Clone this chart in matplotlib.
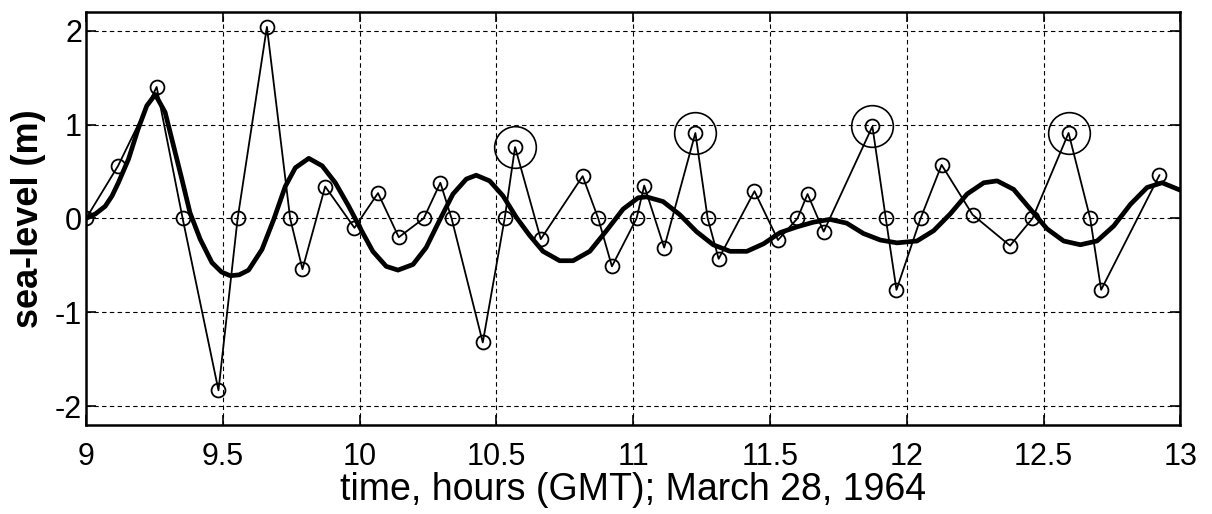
import matplotlib
matplotlib.use('Agg')
import matplotlib.pyplot as plt

plt.rcParams['font.family'] = ['Liberation Sans', 'DejaVu Sans']
plt.rcParams['axes.unicode_minus'] = False

# observed sea level (thin line with circles)
obs_t = [9.0, 9.117, 9.258, 9.353, 9.484, 9.554, 9.661, 9.746, 9.791, 9.874,
         9.981, 10.067, 10.143, 10.234, 10.295, 10.336, 10.45, 10.53, 10.568, 10.662,
         10.815, 10.872, 10.922, 11.012, 11.04, 11.113, 11.227, 11.272, 11.312, 11.443,
         11.529, 11.6, 11.637, 11.696, 11.874, 11.923, 11.962, 12.05, 12.127, 12.24,
         12.377, 12.459, 12.591, 12.67, 12.71, 12.923]
obs_v = [0.0, 0.56, 1.40, 0.0, -1.83, 0.0, 2.04, 0.0, -0.54, 0.34,
         -0.10, 0.27, -0.20, 0.0, 0.38, 0.0, -1.32, 0.0, 0.76, -0.22,
         0.45, 0.0, -0.51, 0.0, 0.35, -0.31, 0.91, 0.0, -0.43, 0.29,
         -0.23, 0.0, 0.26, -0.14, 0.98, 0.0, -0.76, 0.0, 0.57, 0.04,
         -0.29, 0.0, 0.91, 0.0, -0.76, 0.46]

# highlighted peaks
peak_t = [10.568, 11.227, 11.874, 12.591]
peak_v = [0.76, 0.91, 0.98, 0.91]

# model curve (thick line)
mod_t = [9.0, 9.035, 9.07, 9.095, 9.118, 9.155, 9.19, 9.222, 9.253, 9.289,
         9.32, 9.35, 9.38, 9.417, 9.46, 9.495, 9.527, 9.56, 9.594, 9.643,
         9.686, 9.728, 9.765, 9.814, 9.863, 9.911, 9.96, 10.005, 10.048, 10.097,
         10.14, 10.195, 10.243, 10.292, 10.341, 10.39, 10.426, 10.475, 10.524, 10.573,
         10.621, 10.67, 10.731, 10.78, 10.841, 10.902, 10.963, 11.018, 11.048, 11.109,
         11.17, 11.231, 11.292, 11.354, 11.415, 11.476, 11.537, 11.598, 11.658, 11.719,
         11.78, 11.841, 11.903, 11.964, 12.037, 12.098, 12.159, 12.22, 12.281, 12.33,
         12.39, 12.451, 12.512, 12.573, 12.634, 12.695, 12.756, 12.817, 12.878, 12.933,
         13.0]
mod_v = [0.0, 0.05, 0.13, 0.24, 0.38, 0.63, 0.95, 1.20, 1.32, 1.13,
         0.77, 0.42, 0.06, -0.22, -0.47, -0.57, -0.61, -0.60, -0.55, -0.33,
         -0.01, 0.34, 0.54, 0.64, 0.56, 0.38, 0.13, -0.12, -0.35, -0.51,
         -0.55, -0.49, -0.31, -0.02, 0.26, 0.42, 0.46, 0.40, 0.24, 0.01,
         -0.18, -0.35, -0.45, -0.45, -0.35, -0.13, 0.10, 0.22, 0.23, 0.18,
         0.04, -0.14, -0.28, -0.35, -0.35, -0.27, -0.15, -0.09, -0.04, -0.01,
         -0.05, -0.16, -0.23, -0.26, -0.24, -0.13, 0.05, 0.26, 0.38, 0.40,
         0.31, 0.10, -0.11, -0.24, -0.28, -0.24, -0.08, 0.15, 0.33, 0.38,
         0.30]

fig = plt.figure(figsize=(12.12, 5.14), dpi=100)
ax = fig.add_axes([0.071, 0.173, 0.903, 0.804])

ax.plot(obs_t, obs_v, color='k', lw=1.3, marker='o', ms=10, mfc='none', mec='k', mew=1.3)
ax.plot(mod_t, mod_v, color='k', lw=3.4, solid_capstyle='round', solid_joinstyle='round')
ax.plot(peak_t, peak_v, ls='none', marker='o', ms=30, mfc='none', mec='k', mew=1.2)

ax.set_xlim(9, 13)
ax.set_ylim(-2.2, 2.2)
ax.set_xticks([9, 9.5, 10, 10.5, 11, 11.5, 12, 12.5, 13])
ax.set_xticklabels(['9', '9.5', '10', '10.5', '11', '11.5', '12', '12.5', '13'])
ax.set_yticks([-2, -1, 0, 1, 2])
ax.grid(True, color='k', ls=(0, (4, 3)), lw=0.8)
ax.tick_params(direction='in', top=True, right=True, length=7, width=1.2, labelsize=22)
ax.tick_params(axis='x', pad=12)
ax.tick_params(axis='y', pad=3)
for s in ax.spines.values():
    s.set_linewidth(1.8)

ax.set_xlabel('time, hours (GMT); March 28, 1964', fontsize=27, labelpad=0)
ax.set_ylabel('sea-level (m)', fontsize=26, fontweight='bold')
ax.yaxis.set_label_coords(-0.037, 0.5)

fig.savefig('out.png', dpi=100)
